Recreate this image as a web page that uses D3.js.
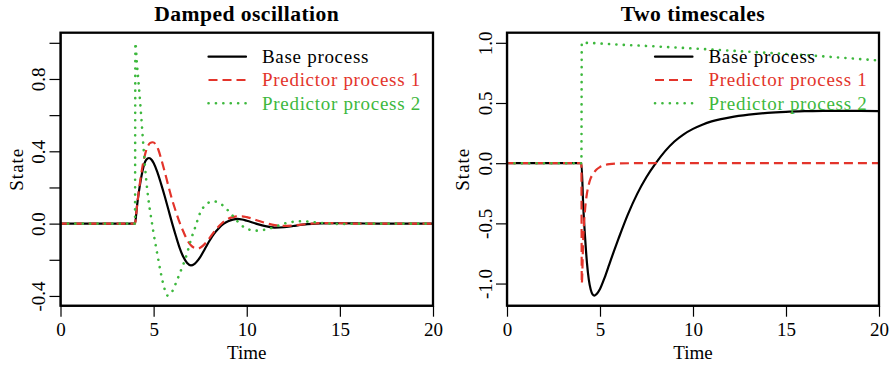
<!DOCTYPE html>
<html><head><meta charset="utf-8">
<script src="https://cdn.jsdelivr.net/npm/d3@7"></script>
<style>
body{margin:0;background:#fff}
svg{display:block}
text{font-family:"Liberation Serif","Times New Roman",serif}
</style>
</head><body>
<svg id="chart" width="893" height="366"></svg>
<script>
// ---------- DATA ----------
const panelTitles = ["Damped oscillation", "Two timescales"];
const seriesNames = ["Base process", "Predictor process 1", "Predictor process 2"];
const xTicks = [0, 5, 10, 15, 20];
const yTicksDamped = [-0.4, -0.2, 0.0, 0.2, 0.4, 0.6, 0.8, 1.0];
const yLabelsDamped = [-0.4, 0.0, 0.4, 0.8];
const yTicksTwo = [-1.0, -0.5, 0.0, 0.5, 1.0];
const yLabelsTwo = [-1.0, -0.5, 0.0, 0.5, 1.0];

// Damped oscillation: [time, state]
const dampedBase = [[0,0],[4,0],[4.1,0.09],[4.2,0.17],[4.3,0.235],[4.4,0.29],[4.5,0.33],[4.6,0.352],[4.75,0.363],[4.9,0.352],[5.0,0.335],[5.2,0.285],[5.4,0.22],[5.6,0.15],[5.8,0.075],[6.0,0.0],[6.2,-0.07],[6.4,-0.135],[6.6,-0.185],[6.8,-0.218],[7.0,-0.231],[7.2,-0.222],[7.5,-0.185],[7.75,-0.14],[8.0,-0.095],[8.25,-0.055],[8.5,-0.025],[8.75,-0.002],[9.0,0.013],[9.25,0.022],[9.5,0.026],[9.75,0.023],[10.0,0.016],[10.5,0.0],[11.0,-0.014],[11.5,-0.022],[12.0,-0.02],[12.5,-0.013],[13.0,-0.006],[13.5,-0.001],[14,0.001],[15,0.002],[16,0.001],[17,0],[20,0]];
const dampedPred1 = [[0,0],[4,0],[4.1,0.09],[4.2,0.175],[4.3,0.25],[4.4,0.315],[4.5,0.365],[4.6,0.405],[4.7,0.43],[4.8,0.445],[4.95,0.45],[5.1,0.44],[5.25,0.41],[5.4,0.36],[5.6,0.285],[5.8,0.205],[6.0,0.13],[6.2,0.065],[6.4,0.005],[6.6,-0.045],[6.8,-0.09],[7.0,-0.12],[7.2,-0.135],[7.35,-0.138],[7.5,-0.134],[7.75,-0.112],[8.0,-0.08],[8.25,-0.045],[8.5,-0.015],[8.75,0.01],[9.0,0.027],[9.25,0.036],[9.5,0.04],[9.75,0.04],[10.0,0.036],[10.25,0.029],[10.5,0.02],[10.75,0.012],[11.0,0.004],[11.5,-0.008],[12.0,-0.012],[12.5,-0.01],[13.0,-0.005],[13.5,0.0],[14,0.003],[14.5,0.003],[15,0.002],[16,0],[20,0]];
const dampedPred2 = [[0,0],[4,0],[4.02,1.0],[4.1,0.89],[4.2,0.77],[4.3,0.64],[4.4,0.5],[4.5,0.365],[4.6,0.245],[4.7,0.15],[4.8,0.075],[4.9,0.01],[5.0,-0.055],[5.2,-0.17],[5.4,-0.28],[5.6,-0.365],[5.75,-0.398],[5.9,-0.39],[6.0,-0.375],[6.25,-0.315],[6.5,-0.25],[6.75,-0.18],[7.0,-0.09],[7.25,-0.015],[7.5,0.06],[7.75,0.1],[8.0,0.118],[8.25,0.123],[8.5,0.115],[8.75,0.098],[9.0,0.072],[9.25,0.043],[9.5,0.013],[9.75,-0.012],[10.0,-0.028],[10.5,-0.039],[11.0,-0.033],[11.5,-0.018],[12.0,0.0],[12.5,0.01],[13.0,0.013],[13.5,0.009],[14.0,0.004],[14.5,0.0],[15,-0.002],[16,0],[20,0]];

// Two timescales: [time, state]
const twoBase = [[0,0],[4,0],[4.1,-0.36],[4.2,-0.62],[4.3,-0.83],[4.4,-0.97],[4.5,-1.05],[4.6,-1.09],[4.7,-1.10],[4.8,-1.09],[5.0,-1.045],[5.25,-0.95],[5.5,-0.84],[5.75,-0.73],[6.0,-0.625],[6.5,-0.425],[7.0,-0.255],[7.5,-0.115],[8.0,0.0],[8.5,0.1],[9.0,0.18],[9.5,0.24],[10.0,0.285],[10.5,0.32],[11.0,0.347],[11.5,0.366],[12.0,0.381],[13.0,0.403],[14.0,0.418],[15.0,0.427],[16.0,0.432],[17.0,0.435],[18.0,0.435],[19.0,0.434],[20.0,0.432]];
const twoPred1 = [[0,0],[4,0],[4.02,-1.0],[4.1,-0.62],[4.2,-0.38],[4.3,-0.25],[4.4,-0.175],[4.5,-0.125],[4.65,-0.085],[4.8,-0.055],[5.0,-0.032],[5.25,-0.016],[5.5,-0.008],[6.0,-0.002],[7.0,0],[20,0]];
const twoPred2 = [[0,0],[4,0],[4.02,1.0],[6,0.985],[8,0.97],[10,0.953],[12,0.935],[14,0.917],[16,0.898],[18,0.876],[20,0.853]];

// ---------- STYLE / LAYOUT ----------
const colors = ["#000000", "#e3342b", "#3db83d"];
const dashes = [null, "9,5", "0.1,7.3"];
const caps = ["round", "butt", "round"];
const widths = [2.2, 2.2, 2.6];
const FS = 19;

const panels = [
  {title: panelTitles[0], series: [dampedBase, dampedPred1, dampedPred2], yTicks: yTicksDamped, yLabels: yLabelsDamped, left: 60.5, right: 433},
  {title: panelTitles[1], series: [twoBase, twoPred1, twoPred2], yTicks: yTicksTwo, yLabels: yLabelsTwo, left: 507, right: 879}
];
const plotTop = 32.7, plotBottom = 305.7;

const loc = d3.formatLocale({decimal: ".", thousands: ",", grouping: [3], currency: ["", ""], minus: "-"});
const fmt = loc.format(".1f");

const svg = d3.select("#chart");

panels.forEach(p => {
  const x = d3.scaleLinear().domain([0, 20]).range([p.left, p.right]);
  const all = p.series.flat().map(d => d[1]);
  const lo = d3.min(all), hi = d3.max(all), pad = (hi - lo) * 0.04;
  const y = d3.scaleLinear().domain([lo - pad, hi + pad]).range([plotBottom, plotTop]);
  const g = svg.append("g");

  const cid = "clip" + Math.round(p.left);
  svg.append("defs").append("clipPath").attr("id", cid)
    .append("rect").attr("x", p.left).attr("y", plotTop).attr("width", p.right - p.left).attr("height", plotBottom - plotTop);

  const line = d3.line().x(d => x(d[0])).y(d => y(d[1])).curve(d3.curveMonotoneX);
  const lg = g.append("g").attr("clip-path", `url(#${cid})`);
  p.series.forEach((s, i) => {
    lg.append("path").datum(s).attr("d", line)
      .attr("fill", "none").attr("stroke", colors[i]).attr("stroke-width", widths[i])
      .attr("stroke-dasharray", dashes[i]).attr("stroke-linecap", caps[i]).attr("stroke-linejoin", "round");
  });

  const xa = g.append("g").attr("transform", `translate(0,${plotBottom})`)
    .call(d3.axisBottom(x).tickValues(xTicks).tickSize(11).tickSizeOuter(0).tickFormat(d3.format("d")));
  xa.select(".domain").attr("stroke", "#000").attr("stroke-width", 1.2);
  xa.selectAll(".tick line").attr("stroke", "#000").attr("stroke-width", 1.2);
  xa.selectAll("text").attr("y", 30.5).attr("dy", 0).attr("font-size", FS).attr("fill", "#000")
    .style("font-family", '"Liberation Serif", serif');

  const ya = g.append("g").attr("transform", `translate(${p.left},0)`)
    .call(d3.axisLeft(y).tickValues(p.yTicks).tickSize(11).tickSizeOuter(0)
      .tickFormat(d => p.yLabels.some(v => Math.abs(v - d) < 1e-9) ? fmt(d) : ""));
  ya.select(".domain").attr("stroke", "#000").attr("stroke-width", 1.2);
  ya.selectAll(".tick line").attr("stroke", "#000").attr("stroke-width", 1.2);
  ya.selectAll("text").attr("x", 0).attr("y", -15.5).attr("dy", 0)
    .attr("transform", "rotate(-90)").attr("text-anchor", "middle")
    .attr("font-size", FS).attr("fill", "#000").style("font-family", '"Liberation Serif", serif');

  g.append("rect").attr("x", p.left).attr("y", plotTop).attr("width", p.right - p.left).attr("height", plotBottom - plotTop)
    .attr("fill", "none").attr("stroke", "#000").attr("stroke-width", 2.3);

  const cx = (p.left + p.right) / 2;
  g.append("text").attr("x", cx).attr("y", 20.7).attr("text-anchor", "middle")
    .attr("font-size", 21.6).attr("font-weight", "bold").attr("letter-spacing", 0.45).text(p.title);
  g.append("text").attr("x", cx).attr("y", 359).attr("text-anchor", "middle")
    .attr("font-size", FS).text("Time");
  g.append("text").attr("transform", `translate(${p.left - 38},${(plotTop + plotBottom) / 2}) rotate(-90)`)
    .attr("text-anchor", "middle").attr("font-size", FS).attr("letter-spacing", 1).text("State");

  const rowsY = [56.7, 80, 103.3];
  seriesNames.forEach((name, i) => {
    g.append("line").attr("x1", p.left + 148).attr("x2", p.left + 185.5)
      .attr("y1", rowsY[i]).attr("y2", rowsY[i])
      .attr("stroke", colors[i]).attr("stroke-width", widths[i])
      .attr("stroke-dasharray", dashes[i]).attr("stroke-linecap", caps[i]);
    g.append("text").attr("x", p.left + 201.5).attr("y", rowsY[i] + 6.3)
      .attr("font-size", FS).attr("letter-spacing", 0.7).attr("fill", colors[i]).text(name);
  });
});
</script>
</body></html>
